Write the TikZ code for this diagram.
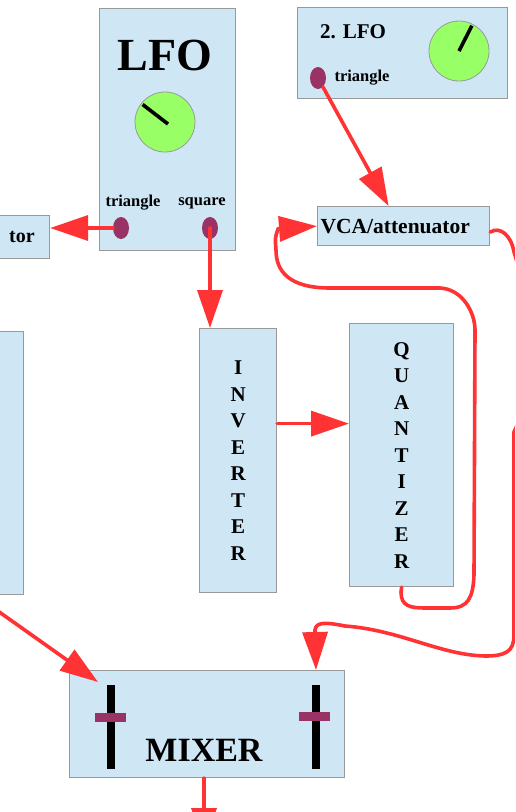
\documentclass[tikz,border=0pt]{standalone}
\usepackage{fontspec}
\setmainfont{Liberation Serif}
\usetikzlibrary{arrows.meta,shapes.geometric}
\definecolor{panelblue}{RGB}{207,231,245}
\definecolor{panelgray}{RGB}{153,153,153}
\definecolor{wirered}{RGB}{255,51,51}
\definecolor{jackpurple}{RGB}{153,51,102}
\definecolor{knobgreen}{RGB}{153,255,102}
\begin{document}
\begin{tikzpicture}[x=1pt,y=-1pt,
  panel/.style={draw=panelgray,fill=panelblue,line width=1.2pt,anchor=north west,inner sep=0pt},
  wire/.style={draw=wirered,line width=3.6pt,line cap=round,-{Triangle[length=38pt,width=25pt]}},
  jack/.style={ellipse,fill=jackpurple,minimum width=16pt,minimum height=22pt,inner sep=0pt},
  knob/.style={circle,draw=panelgray,fill=knobgreen,line width=0.8pt,minimum size=60pt,inner sep=0pt},
  needle/.style={line width=3.6pt,shorten >=2pt},
  fader/.style={fill=black,minimum width=8pt,minimum height=84pt,inner sep=0pt},
  handle/.style={fill=jackpurple,minimum width=31pt,minimum height=9pt,inner sep=0pt},
  lbl/.style={font=\bfseries\fontsize{16.5}{16.5}\selectfont},
  vtext/.style={align=center,font=\bfseries\fontsize{21}{26.5}\selectfont}]
\useasboundingbox (0,0) rectangle (515,812);
\fill[white] (0,0) rectangle (515,812);
\clip (0,0) rectangle (515,812);

\node[panel,minimum width=136pt,minimum height=242pt] (lfo) at (99,8) {};
\node[font=\bfseries\fontsize{46}{46}\selectfont] (lfotitle) at (165,55) {LFO};
\node[knob] (knob1) at (165,122) {};
\draw[needle] ([shift={(3,2)}]knob1.center) -- (knob1.142);
\node[lbl] (trilabel) at (133,203) {triangle};
\node[lbl] (sqlabel) at (202,203) {square};
\node[jack] (tri1) at (121,228) {};
\node[jack] (sq1) at (210,228) {};

\node[panel,minimum width=210pt,minimum height=91pt] (lfo2) at (297,7) {};
\node[font=\bfseries\fontsize{21}{21}\selectfont] (lfo2title) at (353,32) {2. LFO};
\node[knob] (knob2) at (459,51) {};
\draw[needle] (knob2.center) -- (knob2.63);
\node[jack] (tri2) at (318,78) {};
\node[lbl] (tri2label) at (362,78) {triangle};

\node[panel,minimum width=172pt,minimum height=39pt,text width=166pt,inner xsep=3pt,align=left,
  font=\bfseries\fontsize{21.5}{21.5}\selectfont] (vca) at (317,206) {VCA/attenuator};

\node[panel,minimum width=109pt,minimum height=43pt] (tor) at (-60,215) {};
\node[font=\bfseries\fontsize{20}{20}\selectfont] (torlabel) at (22,237) {tor};

\node[panel,minimum width=73pt,minimum height=263pt] (leftbox) at (-50,331) {};

\node[panel,minimum width=77pt,minimum height=264pt,vtext] (inv) at (199,328) {I\\N\\V\\E\\R\\T\\E\\R};
\node[panel,minimum width=104pt,minimum height=263pt,vtext] (quant) at (349,323) {Q\\U\\A\\N\\T\\I\\Z\\E\\R};

\node[panel,minimum width=275pt,minimum height=107pt] (mix) at (69,670) {};
\node[fader] (fader1) at (111,727) {};
\node[handle] (handle1) at (110.5,717.5) {};
\node[fader] (fader2) at (316,727) {};
\node[handle] (handle2) at (314.5,716) {};
\node[font=\bfseries\fontsize{34}{34}\selectfont] (mixlabel) at (204,750) {MIXER};

\coordinate (invout) at ([yshift=37pt]inv.east);
\coordinate (leftin) at (-12,604);
\coordinate (mixleft) at (98,682);
\coordinate (mixout) at (204,846);

\draw[wire] (tri1) -- (tri1 -| tor.east);
\draw[wire] (sq1.center) -- (sq1 |- inv.north);
\draw[wire] (tri2) -- ([xshift=-15pt]vca.north);
\draw[wire] (invout) -- (invout -| quant.west);
\draw[wire] (quant.south) -- (401,592) .. controls (401,606) and (410,608) .. (425,608) -- (450,608)
  .. controls (468,608) and (473,598) .. (474,575) -- (475,330)
  .. controls (475,312) and (462,289) .. (440,288) -- (330,288)
  .. controls (290,288) and (276,272) .. (276,250) .. controls (275,238) .. (278,229) -- (vca.west);
\draw[wire] ([yshift=-6pt]vca.east) .. controls (500,226) and (511,235) .. (514,252)
  .. controls (530,300) and (535,390) .. (514,432) -- (514,635)
  .. controls (514,652) and (505,656) .. (485,656) .. controls (440,655) and (400,630) .. (345,626)
  .. controls (325,622) and (316,622) .. (315,630) -- (fader2 |- mix.north);
\draw[wire] (leftin) -- (mixleft);
\draw[wire] (mixout |- mix.south) -- (mixout);
\end{tikzpicture}
\end{document}
